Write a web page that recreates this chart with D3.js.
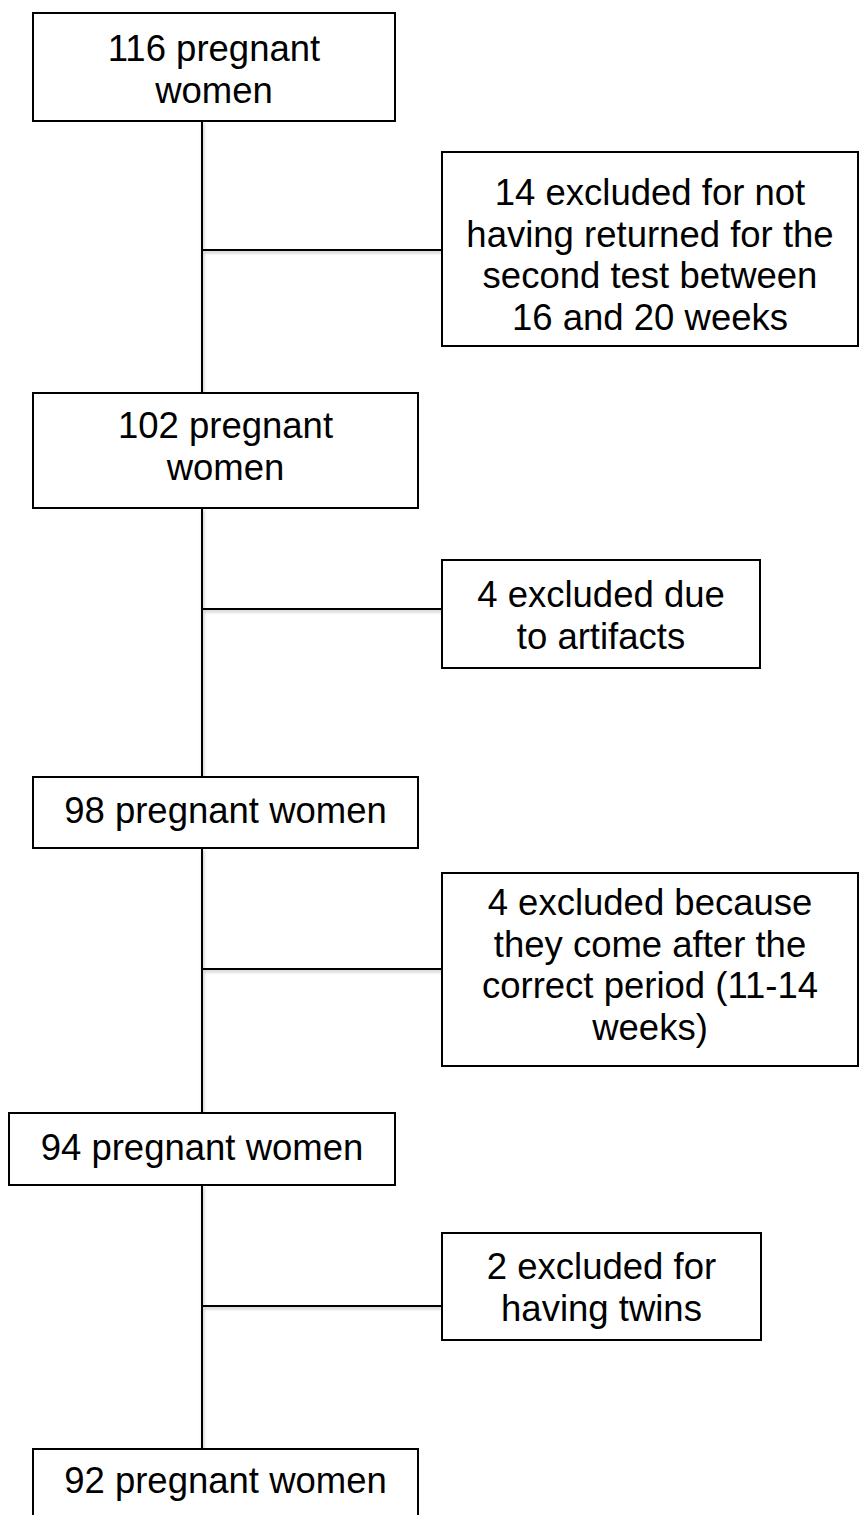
<!DOCTYPE html>
<html>
<head>
<meta charset="utf-8">
<script src="https://cdn.jsdelivr.net/npm/d3@7"></script>
<style>
  body { margin: 0; background: #fff; }
  svg { display: block; }
  text { font-family: "Liberation Sans", Arial, sans-serif; fill: #000; }
</style>
</head>
<body>
<svg id="flow" width="859" height="1515"></svg>
<script>
// Flow data: counts remaining at each step and the exclusions in between
var mainCounts = [116, 102, 98, 94, 92];
var mainLines = [
    ["116 pregnant", "women"],
    ["102 pregnant", "women"],
    ["98 pregnant women"],
    ["94 pregnant women"],
    ["92 pregnant women"]
];
var excludedCounts = [14, 4, 4, 2];
var excludedLines = [
    ["14 excluded for not", "having returned for the", "second test between", "16 and 20 weeks"],
    ["4 excluded due", "to artifacts"],
    ["4 excluded because", "they come after the", "correct period (11-14", "weeks)"],
    ["2 excluded for", "having twins"]
];

// Layout (pixels)
var w = 859, h = 1515;
var spineX = 202;
var fontSize = 36.5;
var lineH = 41.7;
var mainLayout = [
    {x: 33, y: 13, w: 362, h: 108, base: 61},
    {x: 33, y: 393, w: 385, h: 115, base: 438},
    {x: 33, y: 777, w: 385, h: 71, base: 823},
    {x: 9, y: 1113, w: 386, h: 72, base: 1160},
    {x: 33, y: 1449, w: 385, h: 90, base: 1493}
];
var exclLayout = [
    {x: 442, y: 152, w: 416, h: 194, base: 205, join: 250},
    {x: 442, y: 560, w: 318, h: 108, base: 607, join: 609},
    {x: 442, y: 873, w: 416, h: 193, base: 915, join: 969},
    {x: 442, y: 1233, w: 319, h: 107, base: 1279, join: 1306}
];

var svg = d3.select("#flow");

// soft shadow under the connector lines
var defs = svg.append("defs");
var filter = defs.append("filter").attr("id", "shadow")
    .attr("x", "-20%").attr("y", "-50%").attr("width", "140%").attr("height", "400%");
filter.append("feDropShadow")
    .attr("dx", 1).attr("dy", 2).attr("stdDeviation", 1.5)
    .attr("flood-color", "#000").attr("flood-opacity", 0.25);

var links = svg.append("g").attr("stroke", "#000").attr("stroke-width", 2)
    .attr("filter", "url(#shadow)");

// vertical spine between main boxes
links.selectAll("line.spine")
    .data(d3.range(mainCounts.length - 1))
    .enter()
    .append("line")
    .attr("class", "spine")
    .attr("x1", spineX)
    .attr("x2", spineX)
    .attr("y1", function (i) { return mainLayout[i].y + mainLayout[i].h; })
    .attr("y2", function (i) { return mainLayout[i + 1].y; });

// horizontal joins to the exclusion boxes
links.selectAll("line.join")
    .data(excludedCounts)
    .enter()
    .append("line")
    .attr("class", "join")
    .attr("x1", spineX)
    .attr("x2", function (d, i) { return exclLayout[i].x; })
    .attr("y1", function (d, i) { return exclLayout[i].join; })
    .attr("y2", function (d, i) { return exclLayout[i].join; });

function drawBoxes(cls, counts, lines, layout) {
    var g = svg.selectAll("g." + cls)
        .data(counts)
        .enter()
        .append("g")
        .attr("class", cls);

    g.append("rect")
        .attr("x", function (d, i) { return layout[i].x; })
        .attr("y", function (d, i) { return layout[i].y; })
        .attr("width", function (d, i) { return layout[i].w; })
        .attr("height", function (d, i) { return layout[i].h; })
        .attr("fill", "#fff")
        .attr("stroke", "#000")
        .attr("stroke-width", 2);

    g.each(function (d, i) {
        var L = layout[i];
        d3.select(this).selectAll("text")
            .data(lines[i])
            .enter()
            .append("text")
            .attr("x", L.x + L.w / 2)
            .attr("y", function (t, j) { return L.base + j * lineH; })
            .attr("text-anchor", "middle")
            .attr("font-size", fontSize)
            .text(function (t) { return t; });
    });
}

drawBoxes("main", mainCounts, mainLines, mainLayout);
drawBoxes("excl", excludedCounts, excludedLines, exclLayout);
</script>
</body>
</html>
